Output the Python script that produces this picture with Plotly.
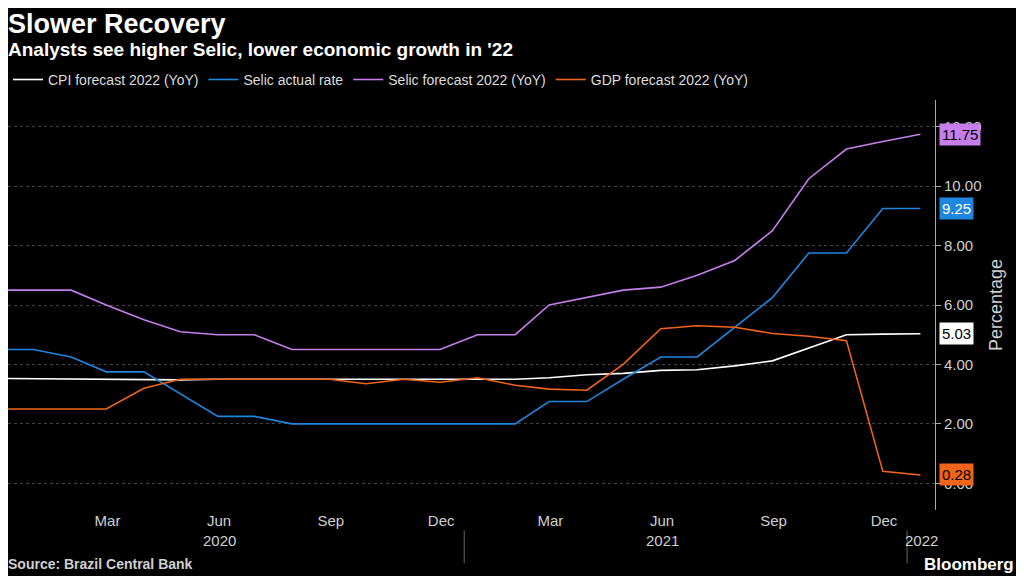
import pandas as pd
import plotly.graph_objects as go

dates = pd.date_range("2019-11-30", "2021-12-31", freq="ME")

cpi = [3.53, 3.52, 3.5, 3.5, 3.48, 3.48, 3.5, 3.5, 3.5, 3.5, 3.5, 3.5, 3.5, 3.5, 3.5,
       3.55, 3.65, 3.7, 3.8, 3.82, 3.95, 4.12, 4.55, 5.0, 5.02, 5.03]
selic = [4.5, 4.5, 4.25, 3.75, 3.75, 3.0, 2.25, 2.25, 2.0, 2.0, 2.0, 2.0, 2.0, 2.0, 2.0,
         2.75, 2.75, 3.5, 4.25, 4.25, 5.25, 6.25, 7.75, 7.75, 9.25, 9.25]
selic_fc = [6.5, 6.5, 6.5, 6.0, 5.5, 5.1, 5.0, 5.0, 4.5, 4.5, 4.5, 4.5, 4.5, 5.0, 5.0,
            6.0, 6.25, 6.5, 6.6, 7.0, 7.5, 8.5, 10.25, 11.25, 11.5, 11.75]
gdp = [2.5, 2.5, 2.5, 2.5, 3.2, 3.5, 3.5, 3.5, 3.5, 3.5, 3.35, 3.5, 3.4, 3.55, 3.3,
       3.17, 3.13, 4.0, 5.2, 5.3, 5.25, 5.04, 4.95, 4.8, 0.4, 0.28]

series = [
    ("CPI forecast 2022 (YoY)", cpi, "#ffffff", "#000000"),
    ("Selic actual rate", selic, "#1f86e0", "#ffffff"),
    ("Selic forecast 2022 (YoY)", selic_fc, "#c77dea", "#000000"),
    ("GDP forecast 2022 (YoY)", gdp, "#f2641a", "#000000"),
]

tick_vals = ["2020-03-01", "2020-06-01", "2020-09-01", "2020-12-01",
             "2021-03-01", "2021-06-01", "2021-09-01", "2021-12-01"]
tick_text = ["Mar", "Jun", "Sep", "Dec", "Mar", "Jun", "Sep", "Dec"]
years = [("2020-06-01", "2020"), ("2021-06-01", "2021"), ("2022-01-01", "2022")]

fig = go.Figure()
for name, vals, color, tcol in series:
    fig.add_trace(go.Scatter(x=dates, y=vals, mode="lines", name=name,
                             line=dict(color=color, width=1.6)))
    fig.add_annotation(x=1.004, xref="paper", y=vals[-1], yref="y", xanchor="left",
                       text=f"{vals[-1]:.2f}", showarrow=False, bgcolor=color,
                       font=dict(color=tcol, size=15), borderpad=2)

for x, t in years:
    fig.add_annotation(x=x, xref="x", y=-0.1, yref="paper", text=t, showarrow=False,
                       font=dict(color="#cfcfcf", size=15))
for x in ["2020-12-20", "2021-12-20"]:
    fig.add_shape(type="line", x0=x, x1=x, xref="x", y0=-0.13, y1=-0.05, yref="paper",
                  line=dict(color="#666", width=1))

fig.add_annotation(x=0, xref="paper", y=1.185, yref="paper", xanchor="left", yanchor="middle",
                   text="<b>Slower Recovery</b>", showarrow=False,
                   font=dict(size=27, color="white"), xshift=-2)
fig.add_annotation(x=0, xref="paper", y=1.122, yref="paper", xanchor="left", yanchor="middle",
                   text="<b>Analysts see higher Selic, lower economic growth in '22</b>", showarrow=False,
                   font=dict(size=19, color="white"), xshift=-2)
fig.add_annotation(x=0, xref="paper", y=-0.132, yref="paper", xanchor="left", yanchor="middle",
                   text="<b>Source: Brazil Central Bank</b>", showarrow=False,
                   font=dict(size=14, color="#cfcfcf"), xshift=-2)
fig.add_annotation(x=1.087, xref="paper", y=-0.132, yref="paper", xanchor="right", yanchor="middle",
                   text="<b>Bloomberg</b>", showarrow=False,
                   font=dict(size=17, color="white"))

fig.update_layout(
    width=1016, height=568,
    paper_bgcolor="black", plot_bgcolor="black",
    font=dict(family="Liberation Sans, Arial, sans-serif", color="#cfcfcf", size=14),
    margin=dict(l=0, r=89, t=92, b=66, autoexpand=False),
    showlegend=True,
    legend=dict(orientation="h", x=0, y=1.01, xanchor="left", yanchor="bottom",
                font=dict(size=14, color="#dddddd"), itemwidth=30, bgcolor="rgba(0,0,0,0)"),
    xaxis=dict(range=["2019-12-10", "2022-01-12"], tickvals=tick_vals, ticktext=tick_text,
               showgrid=False, showline=False, ticks="", zeroline=False,
               tickfont=dict(size=15)),
    yaxis=dict(side="right", range=[-0.9, 12.9], tickvals=[0, 2, 4, 6, 8, 10, 12],
               ticktext=["0.00", "2.00", "4.00", "6.00", "8.00", "10.00", "12.00"],
               tickfont=dict(size=15), gridcolor="#444", griddash="dot", zeroline=False,
               showline=True, linecolor="#aaa", ticks="outside", ticklen=5, tickcolor="#aaa",
               title=dict(text="Percentage", font=dict(size=18), standoff=8)),
)

fig.write_html("out.html")
